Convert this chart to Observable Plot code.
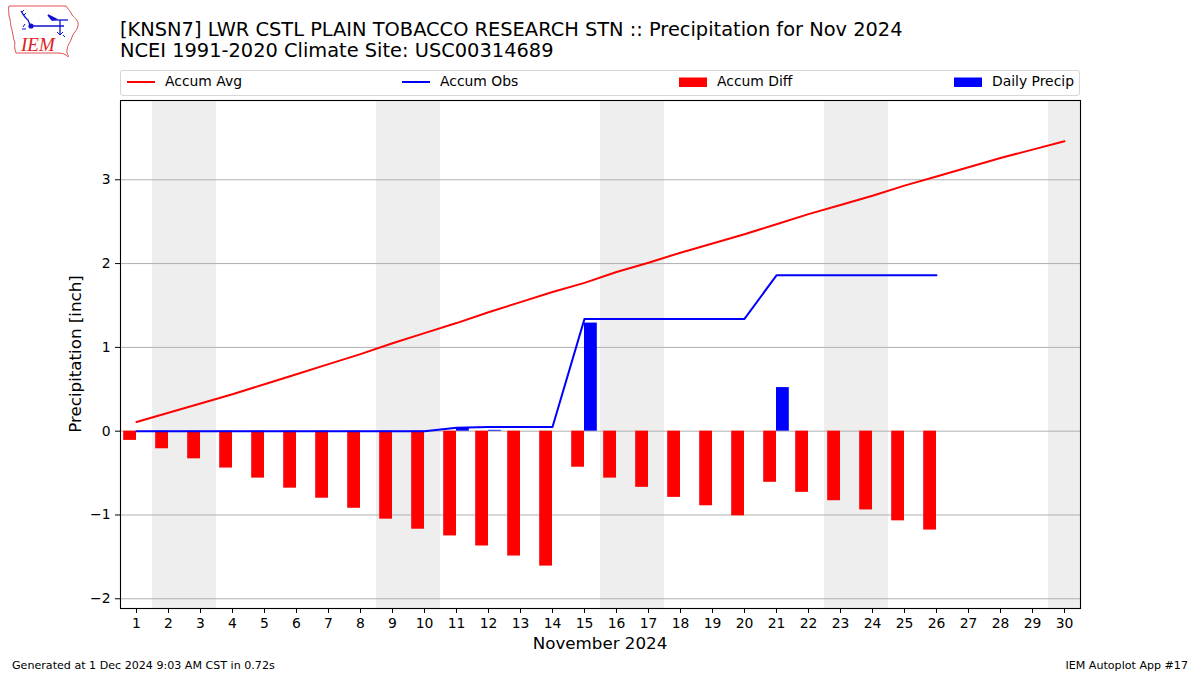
<!DOCTYPE html>
<html><head><meta charset="utf-8">
<script src="https://cdn.jsdelivr.net/npm/d3@7"></script>
<script src="https://cdn.jsdelivr.net/npm/@observablehq/plot@0.6"></script>
<style>
body{margin:0;background:#fff;font-family:"DejaVu Sans",sans-serif;}
#wrap{position:relative;width:1200px;height:675px;overflow:hidden;background:#fff;}
#chart{position:absolute;left:0;top:0;}
.t{position:absolute;white-space:nowrap;color:#000;font-family:"DejaVu Sans",sans-serif;}
#legend{position:absolute;left:120px;top:70px;width:958px;height:24px;border:1px solid #d6d6d6;border-radius:3px;background:#fff;}
</style></head><body>
<div id="wrap">
  <div id="chart"></div>
  <svg id="logo" style="position:absolute;left:0;top:0" width="100" height="65" viewBox="0 0 100 65">
    <path d="M9,6 L66,6 C68,9 71,12 72,15 C75,18 79,21 78,26 C77,31 73,33 72,37 C71,42 67,45 67,50 C66,53 69,55 68,57 C66,54 62,53 58,53 L16,53 C15,50 14,46 15,43 C13,38 13,34 12,30 C10,25 11,20 9,16 C9,12 8,9 9,6 Z" fill="none" stroke="#e05050" stroke-width="1"/>
    <path d="M21,11 C23,14 25,18 28,20 L30,25" fill="none" stroke="#1010d0" stroke-width="1.3"/>
    <path d="M22,12 L24,10 M24,15 L26,13" fill="none" stroke="#1010d0" stroke-width="1"/>
    <circle cx="31" cy="26" r="2.6" fill="#1010d0"/>
    <line x1="31" y1="26" x2="64" y2="26" stroke="#1010d0" stroke-width="1.6"/>
    <path d="M48,15 L56,19 L52,20 Z" fill="#1010d0" stroke="#1010d0" stroke-width="1.5"/>
    <line x1="52" y1="20" x2="68" y2="20" stroke="#1010d0" stroke-width="1.3"/>
    <line x1="60" y1="20" x2="60" y2="34" stroke="#1010d0" stroke-width="1.3"/>
    <path d="M57,32 L60,35 L63,32 M63,35 L65,37" fill="none" stroke="#1010d0" stroke-width="1"/>
    <path d="M23,27 L25,24 M22,29 L26,29" fill="none" stroke="#1010d0" stroke-width="1"/>
    <text x="21" y="51" font-family="Liberation Serif, serif" font-style="italic" font-size="19" fill="#e02020">IEM</text>
  </svg>
  <div class="t" id="title1" style="left:120px;top:19.6px;font-size:19.4px;line-height:19.4px;">[KNSN7] LWR CSTL PLAIN TOBACCO RESEARCH STN :: Precipitation for Nov 2024</div>
  <div class="t" id="title2" style="left:120px;top:40.6px;font-size:19.4px;line-height:19.4px;">NCEI 1991-2020 Climate Site: USC00314689</div>
  <div id="legend"></div>
  <div class="t" id="ylabel" style="left:75px;top:354px;font-size:16.7px;line-height:16.7px;transform:translate(-50%,-50%) rotate(-90deg);">Precipitation [inch]</div>
  <div class="t" id="xlabel" style="left:600px;top:635px;font-size:16.7px;line-height:16.7px;transform:translateX(-50%);">November 2024</div>
  <div class="t" id="foot1" style="left:12px;top:660px;font-size:11.1px;line-height:11.1px;">Generated at 1 Dec 2024 9:03 AM CST in 0.72s</div>
  <div class="t" id="foot2" style="right:12px;top:660px;font-size:11.1px;line-height:11.1px;">IEM Autoplot App #17</div>
</div>
<script>
// ---- data (inches) ----
const days = [1,2,3,4,5,6,7,8,9,10,11,12,13,14,15,16,17,18,19,20,21,22,23,24,25,26,27,28,29,30];
const obsDays = [1,2,3,4,5,6,7,8,9,10,11,12,13,14,15,16,17,18,19,20,21,22,23,24,25,26];
const accumAvg = [0.11,0.22,0.33,0.44,0.56,0.68,0.80,0.92,1.05,1.17,1.29,1.42,1.54,1.66,1.77,1.90,2.01,2.13,2.24,2.35,2.47,2.59,2.70,2.81,2.93,3.04,3.15,3.26,3.36,3.46];
const accumObs = [0,0,0,0,0,0,0,0,0,0,0.04,0.05,0.05,0.05,1.34,1.34,1.34,1.34,1.34,1.34,1.86,1.86,1.86,1.86,1.86,1.86];
const accumDiff = [-0.11,-0.21,-0.33,-0.44,-0.56,-0.68,-0.80,-0.92,-1.05,-1.17,-1.25,-1.37,-1.49,-1.61,-0.43,-0.56,-0.67,-0.79,-0.89,-1.01,-0.61,-0.73,-0.83,-0.94,-1.07,-1.18];
const dailyPrecip = [0,0,0,0,0,0,0,0,0,0,0.04,0.01,0,0,1.29,0,0,0,0,0,0.52,0,0,0,0,0];
const weekendDays = [2,3,9,10,16,17,23,24,30];
const yTicks = [-2,-1,0,1,2,3];
const yTickLabels = ["\u22122","\u22121","0","1","2","3"];
const yDomain = [-2.116, 3.946];

const avgData = days.map((d,i) => ({day:d, v:accumAvg[i]}));
const obsData = obsDays.map((d,i) => ({day:d, v:accumObs[i]}));
const diffData = obsDays.map((d,i) => ({day:d, v:accumDiff[i]}));
const precipData = obsDays.map((d,i) => ({day:d, v:dailyPrecip[i]})).filter(d => d.v > 0);

const barW = 0.4;

const chart = Plot.plot({
  width: 1200, height: 675,
  marginLeft: 120, marginRight: 120, marginTop: 100, marginBottom: 67,
  style: {fontFamily: "DejaVu Sans", fontSize: "13.9px", color: "#000", background: "transparent", overflow: "visible"},
  x: {type: "linear", domain: [0.5, 30.5]},
  y: {type: "linear", domain: yDomain},
  marks: [
    Plot.rect(weekendDays, {x1: d => d - 0.5, x2: d => Math.min(d + 0.5, 30.5), y1: yDomain[0], y2: yDomain[1], fill: "#eeeeee"}),
    Plot.ruleY(yTicks, {stroke: "#b0b0b0", strokeWidth: 1}),
    Plot.rect(diffData, {x1: d => d.day - barW, x2: d => d.day, y1: 0, y2: "v", fill: "#ff0000"}),
    Plot.rect(precipData, {x1: d => d.day, x2: d => d.day + barW, y1: 0, y2: "v", fill: "#0000ff"}),
    Plot.line(avgData, {x: "day", y: "v", stroke: "#ff0000", strokeWidth: 2}),
    Plot.line(obsData, {x: "day", y: "v", stroke: "#0000ff", strokeWidth: 2}),
    Plot.axisX({ticks: days, tickSize: 5, tickPadding: 5, fontSize: 13.9, label: null, tickFormat: d => String(d)}),
    Plot.axisY({ticks: yTicks, tickSize: 5, tickPadding: 5, fontSize: 13.9, label: null, tickFormat: d => yTickLabels[yTicks.indexOf(d)]}),
    Plot.frame({stroke: "#000", strokeWidth: 1.1})
  ]
});
document.getElementById("chart").appendChild(chart);

// ---- legend ----
const legendItems = [
  {label: "Accum Avg", color: "#ff0000", kind: "line", x: 6},
  {label: "Accum Obs", color: "#0000ff", kind: "line", x: 281},
  {label: "Accum Diff", color: "#ff0000", kind: "patch", x: 558},
  {label: "Daily Precip", color: "#0000ff", kind: "patch", x: 833}
];
const lg = document.getElementById("legend");
for (const it of legendItems) {
  const sw = document.createElementNS("http://www.w3.org/2000/svg", "svg");
  sw.setAttribute("width", 28); sw.setAttribute("height", 12);
  sw.style.position = "absolute"; sw.style.left = it.x + "px"; sw.style.top = "5px";
  if (it.kind === "line") {
    sw.innerHTML = `<line x1="0" y1="6" x2="28" y2="6" stroke="${it.color}" stroke-width="2"/>`;
  } else {
    sw.innerHTML = `<rect x="0" y="1.5" width="28" height="9.5" fill="${it.color}"/>`;
  }
  lg.appendChild(sw);
  const tx = document.createElement("div");
  tx.className = "t";
  tx.textContent = it.label;
  tx.style.left = (it.x + 38) + "px";
  tx.style.top = "4.4px";
  tx.style.fontSize = "13.9px";
  tx.style.lineHeight = "13.9px";
  lg.appendChild(tx);
}
</script>
</body></html>
